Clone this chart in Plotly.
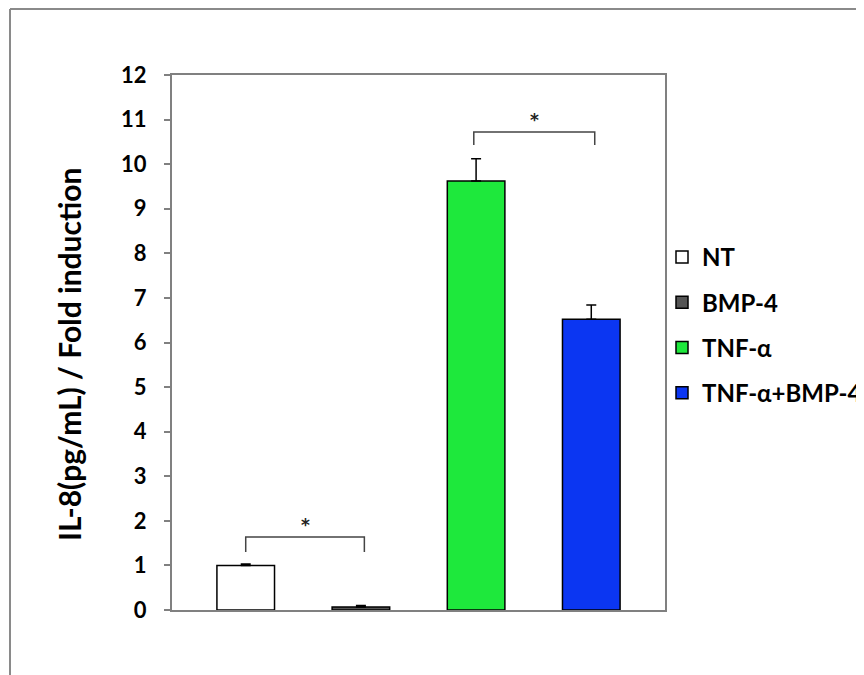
import plotly.graph_objects as go

categories = ["NT", "BMP-4", "TNF-α", "TNF-α+BMP-4"]
values = [1.0, 0.07, 9.62, 6.52]
errors = [0.03, 0.03, 0.5, 0.32]
colors = ["#ffffff", "#555555", "#1ee83c", "#0b36f2"]
yticks = list(range(0, 13))
y_title = "IL-8(pg/mL) / Fold induction"
# significance brackets: (x0, x1, y top, y tick bottom)
brackets = [(0, 1.03, 1.64, 1.3), (1.98, 3.03, 10.72, 10.43)]

positions = list(range(len(categories)))
FONT = "Lato"

fig = go.Figure()
for i, (cat, v, e, c) in enumerate(zip(categories, values, errors, colors)):
    fig.add_trace(go.Bar(
        x=[positions[i]], y=[v], name=cat, width=0.5,
        marker=dict(color=c, line=dict(color="#000000", width=1.5)),
        error_y=dict(type="data", array=[e], arrayminus=[0], symmetric=False,
                     color="#000000", thickness=1.5, width=5),
        legendgroup=cat,
    ))

for x0, x1, ytop, ybot in brackets:
    fig.add_trace(go.Scatter(
        x=[x0, x0, x1, x1], y=[ybot, ytop, ytop, ybot], mode="lines",
        line=dict(color="#444444", width=1.5), showlegend=False, hoverinfo="skip"))
    fig.add_annotation(x=(x0 + x1) / 2, y=ytop, yshift=12, text="<b>*</b>", showarrow=False,
                       font=dict(family="DejaVu Sans", size=17, color="#222222"))

OFF = 8  # page body margin
L, R, T, B = 172 - OFF, 665 - OFF, 75 - OFF, 610 - OFF
W, H = 864, 675
def px(x):
    return (x - OFF - L) / (R - L)
def py(y):
    return (B - (y - OFF)) / (B - T)

fig.add_shape(type="line", xref="paper", yref="paper",
              x0=px(10), x1=px(880), y0=py(9), y1=py(9),
              line=dict(color="#8a8a8a", width=2))
fig.add_shape(type="line", xref="paper", yref="paper",
              x0=px(10), x1=px(10), y0=py(9), y1=py(690),
              line=dict(color="#8a8a8a", width=2))

fig.add_annotation(xref="paper", yref="paper", x=px(69), y=py(355),
                   xanchor="center", yanchor="middle", textangle=-90,
                   text=f"<b>{y_title}</b>", showarrow=False,
                   font=dict(family=FONT, size=30, color="#000000"))

fig.update_layout(
    width=W, height=H,
    margin=dict(l=L, r=W - R, t=T, b=H - B, autoexpand=False),
    paper_bgcolor="white", plot_bgcolor="white",
    barmode="overlay",
    font=dict(family=FONT, color="#000000"),
    showlegend=True,
    legend=dict(x=px(662), y=py(235), xanchor="left", yanchor="top",
                font=dict(family=FONT, size=24, color="#000000", weight="bold"),
                tracegroupgap=11, bgcolor="rgba(0,0,0,0)", traceorder="grouped",
                itemwidth=30),
    xaxis=dict(range=[-0.64, 3.64], showticklabels=False, ticks="",
               showgrid=False, zeroline=False, showline=True, mirror=True,
               linecolor="#808080", linewidth=2, fixedrange=True),
    yaxis=dict(range=[0, 12], tickvals=yticks, ticks="outside", ticklen=6,
               tickwidth=2, tickcolor="#808080", showgrid=False, zeroline=False,
               showline=True, mirror=True, linecolor="#808080", linewidth=2,
               tickfont=dict(family=FONT, size=22, color="#000000", weight="bold"),
               ticklabelstandoff=13),
)

fig.write_html("out.html")
